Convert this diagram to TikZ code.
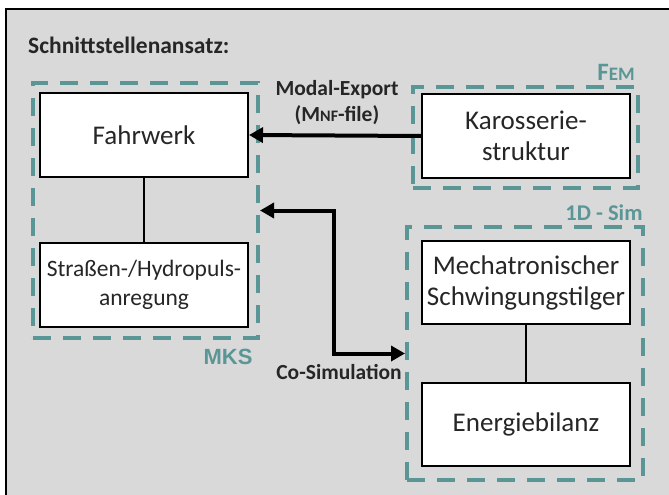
\documentclass[tikz,border=0pt]{standalone}
\usepackage{fontspec}
\setmainfont{Carlito}
\newfontfamily\arialfont{Liberation Sans}
\usetikzlibrary{positioning,arrows.meta}
\definecolor{simteal}{RGB}{91,150,150}
\definecolor{bggray}{RGB}{217,217,217}
\definecolor{txtgray}{RGB}{38,38,38}

\begin{document}
\begin{tikzpicture}
  [x=1pt,y=-1pt,
   block/.style={draw=black,line width=2pt,fill=white,text=txtgray,
     minimum width=208pt,minimum height=84pt,align=center,inner sep=2pt,
     font=\fontsize{27}{31}\selectfont},
   group/.style={draw=simteal,line width=4pt,dash pattern=on 18pt off 12pt},
   grouplbl/.style={text=simteal,inner sep=0pt,font=\bfseries},
   lbl/.style={text=txtgray,align=center,inner sep=0pt,
     font=\bfseries\fontsize{21.5}{26}\selectfont},
   flow/.style={line width=4pt,-{Triangle[length=14pt,width=15pt]}},
   link/.style={line width=2pt}]
  \clip (0,0) rectangle (669,495);
  \useasboundingbox (0,0) rectangle (669,495);
  \draw[line width=2pt,fill=bggray] (6,9) rectangle (690,520);

  \node[text=txtgray,anchor=west,inner sep=0pt,font=\bfseries\fontsize{23.5}{28}\selectfont]
    (title) at (28,45) {Schnittstellenansatz:};

  % MKS
  \node[group,minimum width=225pt,minimum height=255pt] (mks) at (145.5,210.5) {};
  \node[block] (fahrwerk) at (144,135) {Fahrwerk};
  \node[block,font=\fontsize{23.5}{29}\selectfont] (anregung) at (144,285)
    {Straßen-/Hydropuls-\\anregung};
  \node[grouplbl,font=\arialfont\bfseries\fontsize{22}{25}\selectfont] (mkslbl) at (228,357) {MKS};

  % FEM
  \node[group,minimum width=225pt,minimum height=101pt] (fem) at (525.5,137.5) {};
  \node[block] (karosserie) at (526,136) {Karosserie-\\struktur};
  \node[grouplbl] (femlbl) at (616,72)
    {{\fontsize{25}{28}\selectfont F}{\fontsize{19}{28}\selectfont EM}};

  % 1D-Simulation
  \node[group,minimum width=236pt,minimum height=253pt] (sim) at (525,353.5) {};
  \node[block,minimum height=83pt] (tilger) at (526,282.5) {Mechatronischer\\Schwingungstilger};
  \node[block,minimum height=83pt] (bilanz) at (526,424.5) {Energiebilanz};
  \node[grouplbl,font=\bfseries\fontsize{22.5}{26}\selectfont] (simlbl) at (604,213) {1D - Sim};

  \draw[link] (fahrwerk) -- (anregung);
  \draw[link] (tilger) -- (bilanz);

  \draw[flow] (karosserie.west) -- (fahrwerk.east);
  \node[lbl] (modal) at (337,103)
    {Modal-Export\\({\fontsize{21.5}{26}\selectfont M}{\fontsize{16}{26}\selectfont NF}-file)};

  \draw[flow,{Triangle[length=14pt,width=15pt]}-{Triangle[length=14pt,width=15pt]}]
    (mks.east) -- ++(74,0) |- (sim.west);
  \node[lbl] (cosim) at (339,372) {Co-Simulation};
\end{tikzpicture}
\end{document}
